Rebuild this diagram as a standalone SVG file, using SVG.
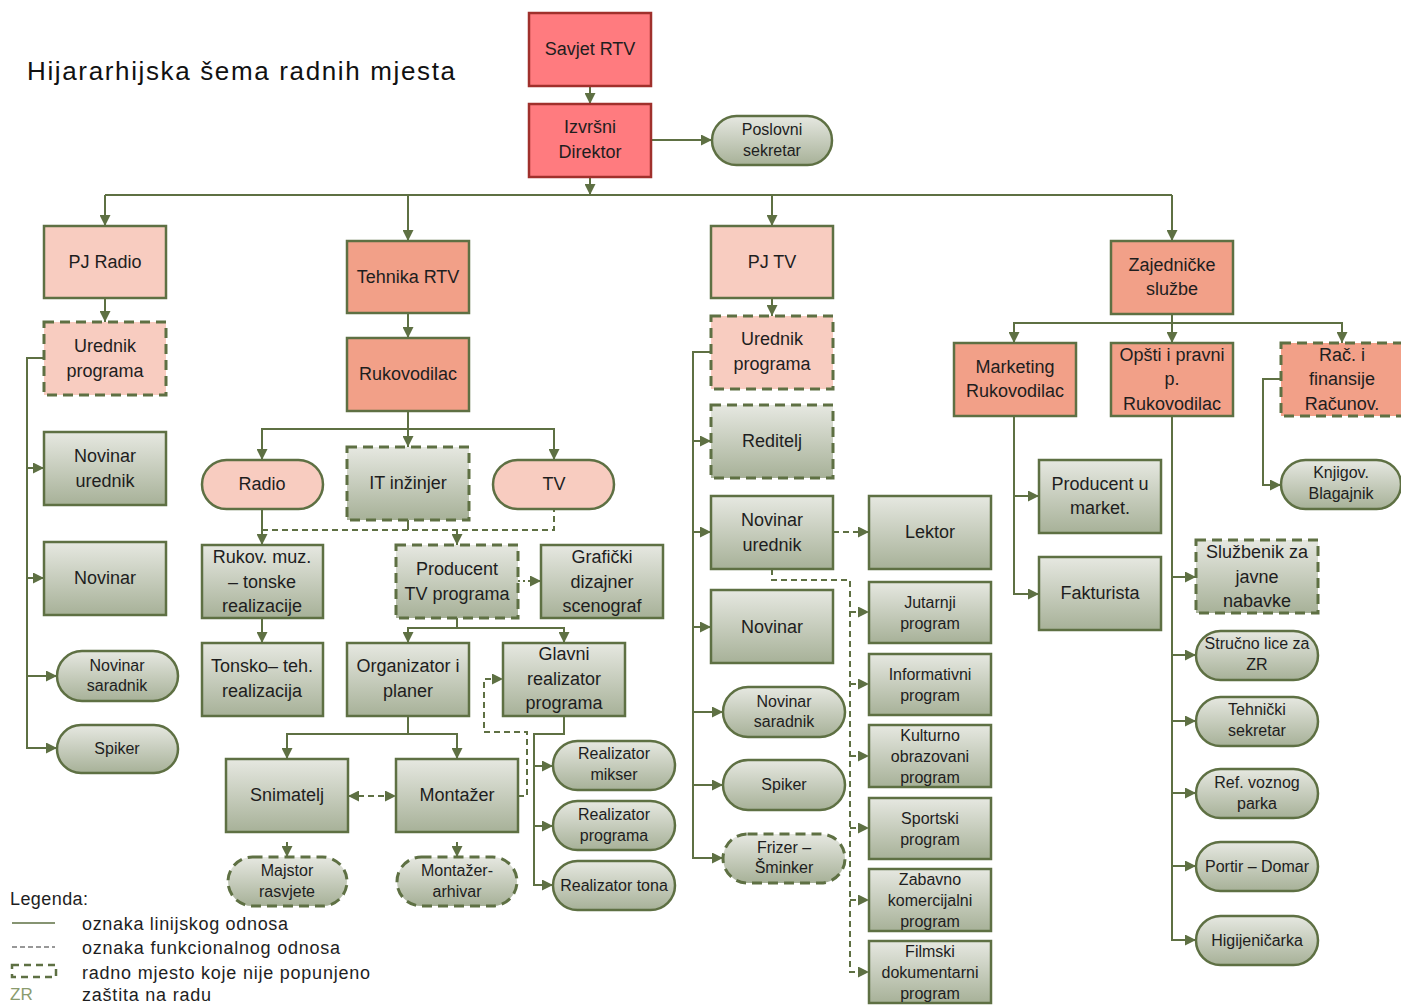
<svg xmlns="http://www.w3.org/2000/svg" width="1401" height="1005" viewBox="0 0 1401 1005">
<defs>
<linearGradient id="g" x1="0" y1="0" x2="0" y2="1">
<stop offset="0" stop-color="#E6E8E1"/>
<stop offset="1" stop-color="#A7B198"/>
</linearGradient>
<marker id="a" markerUnits="userSpaceOnUse" markerWidth="11" markerHeight="11" refX="11" refY="5.5" orient="auto">
<path d="M0,0 L11,5.5 L0,11 z" fill="#5E7043"/>
</marker>
<marker id="as" markerUnits="userSpaceOnUse" markerWidth="11" markerHeight="11" refX="0" refY="5.5" orient="auto">
<path d="M11,0 L0,5.5 L11,11 z" fill="#5E7043"/>
</marker>
<style>
text{font-family:"Liberation Sans",Arial,sans-serif;fill:#1E1E1E;text-anchor:middle}
.t{font-size:18px}
.s{font-size:16px}
.l{font-size:18px;text-anchor:start}
.red{fill:#FF7B7F;stroke:#A0302C;stroke-width:2.5}
.sal{fill:#F2A088;stroke:#5E7043;stroke-width:2.5}
.pink{fill:#F8CCC0;stroke:#5E7043;stroke-width:2.5}
.grn{fill:url(#g);stroke:#5E7043;stroke-width:2.5}
.dash{stroke-dasharray:10 6;stroke-width:3}
.c path{fill:none;stroke:#5E7043;stroke-width:2}
.c .d{stroke-dasharray:6 4}
.c .o{stroke-dasharray:2 3}
.m{marker-end:url(#a)}
</style>
</defs>

<text x="27" y="80" textLength="428" lengthAdjust="spacing" style="font-size:26px;text-anchor:start;fill:#111">Hijararhijska šema radnih mjesta</text>

<g class="c" id="connectors">
<path class="m" d="M590,86 V104"/>
<path class="m" d="M651,140 H712"/>
<path class="m" d="M590,177 V195"/>
<path d="M105,195 H1172"/>
<path class="m" d="M105,195 V226"/>
<path class="m" d="M408,195 V241"/>
<path class="m" d="M772,195 V226"/>
<path class="m" d="M1172,195 V241"/>
<path class="m" d="M105,298 V322"/>
<path class="m" d="M44,358 H27 V748 H57"/>
<path class="m" d="M27,468 H44"/>
<path class="m" d="M27,578 H44"/>
<path class="m" d="M27,676 H57"/>
<path class="m" d="M408,313 V338"/>
<path class="m" d="M408,411 V447"/>
<path class="m" d="M408,429 H262 V460"/>
<path class="m" d="M408,429 H554 V460"/>
<path class="m" d="M262,509 V545"/>
<path d="M408,520 V530"/>
<path class="d" d="M262,530 H554 V509"/>
<path class="d m" d="M457,530 V545"/>
<path class="o m" d="M518,581 H541"/>
<path class="m" d="M262,618 V643"/>
<path class="m" d="M457,618 V628 H408 V643"/>
<path class="m" d="M457,628 H564 V643"/>
<path class="m" d="M408,716 V734 H287 V759"/>
<path class="m" d="M408,734 H457 V759"/>
<path class="d m" d="M348,796 H396" style="marker-start:url(#as)"/>
<path class="m" d="M287,842 V857"/>
<path class="m" d="M457,842 V857"/>
<path class="m" d="M564,716 V734 H534 V885 H553"/>
<path class="m" d="M534,766 H553"/>
<path class="m" d="M534,826 H553"/>
<path class="d m" d="M518,796 H527 V732 H484 V679 H503"/>
<path class="m" d="M772,298 V316"/>
<path class="m" d="M711,352 H693 V858 H723"/>
<path class="m" d="M693,441 H711"/>
<path class="m" d="M693,532 H711"/>
<path class="m" d="M693,627 H711"/>
<path class="m" d="M693,712 H723"/>
<path class="m" d="M693,785 H723"/>
<path class="d m" d="M833,532 H869"/>
<path class="d m" d="M772,569 V580 H850 V972 H869"/>
<path class="d m" d="M850,612 H869"/>
<path class="d m" d="M850,684 H869"/>
<path class="d m" d="M850,756 H869"/>
<path class="d m" d="M850,828 H869"/>
<path class="d m" d="M850,900 H869"/>
<path class="m" d="M1172,314 V343"/>
<path class="m" d="M1172,323 H1014 V343"/>
<path class="m" d="M1172,323 H1342 V343"/>
<path class="m" d="M1014,416 V594 H1039"/>
<path class="m" d="M1014,496 H1039"/>
<path class="m" d="M1281,379 H1263 V485 H1281"/>
<path class="m" d="M1172,416 V940 H1196"/>
<path class="m" d="M1172,577 H1196"/>
<path class="m" d="M1172,655 H1196"/>
<path class="m" d="M1172,721 H1196"/>
<path class="m" d="M1172,793 H1196"/>
<path class="m" d="M1172,866 H1196"/>
</g>

<g id="savjet"><rect class="red" x="529" y="13" width="122" height="73"/><text class="t" x="590" y="55">Savjet RTV</text></g>
<g id="izvrsni"><rect class="red" x="529" y="104" width="122" height="73"/><text class="t" x="590" y="133">Izvršni</text><text class="t" x="590" y="158">Direktor</text></g>
<g id="poslovni"><rect class="grn" x="712" y="116" width="120" height="49" rx="24.5"/><text class="s" x="772" y="135">Poslovni</text><text class="s" x="772" y="156">sekretar</text></g>

<g id="pjradio"><rect class="pink" x="44" y="226" width="122" height="72"/><text class="t" x="105" y="268">PJ Radio</text></g>
<g id="urednik-r"><rect class="pink dash" x="44" y="322" width="122" height="73"/><text class="t" x="105" y="352">Urednik</text><text class="t" x="105" y="377">programa</text></g>
<g id="novurednik-r"><rect class="grn" x="44" y="432" width="122" height="73"/><text class="t" x="105" y="462">Novinar</text><text class="t" x="105" y="487">urednik</text></g>
<g id="novinar-r"><rect class="grn" x="44" y="542" width="122" height="73"/><text class="t" x="105" y="584">Novinar</text></g>
<g id="novsar-r"><rect class="grn" x="57" y="651" width="121" height="50" rx="25"/><text class="s" x="117" y="671">Novinar</text><text class="s" x="117" y="691">saradnik</text></g>
<g id="spiker-r"><rect class="grn" x="57" y="725" width="121" height="48" rx="24"/><text class="s" x="117" y="754">Spiker</text></g>

<g id="tehnika"><rect class="sal" x="347" y="241" width="122" height="72"/><text class="t" x="408" y="283">Tehnika RTV</text></g>
<g id="rukovodilac"><rect class="sal" x="347" y="338" width="122" height="73"/><text class="t" x="408" y="380">Rukovodilac</text></g>
<g id="radio"><rect class="pink" x="202" y="460" width="121" height="49" rx="24.5"/><text class="t" x="262" y="490">Radio</text></g>
<g id="it"><rect class="grn dash" x="347" y="447" width="122" height="73"/><text class="t" x="408" y="489">IT inžinjer</text></g>
<g id="tv"><rect class="pink" x="493" y="460" width="121" height="49" rx="24.5"/><text class="t" x="554" y="490">TV</text></g>
<g id="rukmuz"><rect class="grn" x="202" y="545" width="121" height="73"/><text class="t" x="262" y="563">Rukov. muz.</text><text class="t" x="262" y="588">– tonske</text><text class="t" x="262" y="612">realizacije</text></g>
<g id="tonsko"><rect class="grn" x="202" y="643" width="121" height="73"/><text class="t" x="262" y="672">Tonsko– teh.</text><text class="t" x="262" y="697">realizacija</text></g>
<g id="producent"><rect class="grn dash" x="396" y="545" width="122" height="73"/><text class="t" x="457" y="575">Producent</text><text class="t" x="457" y="600">TV programa</text></g>
<g id="graficki"><rect class="grn" x="541" y="545" width="122" height="73"/><text class="t" x="602" y="563">Grafički</text><text class="t" x="602" y="588">dizajner</text><text class="t" x="602" y="612">scenograf</text></g>
<g id="organizator"><rect class="grn" x="347" y="643" width="122" height="73"/><text class="t" x="408" y="672">Organizator i</text><text class="t" x="408" y="697">planer</text></g>
<g id="glavni"><rect class="grn" x="503" y="643" width="122" height="73"/><text class="t" x="564" y="660">Glavni</text><text class="t" x="564" y="685">realizator</text><text class="t" x="564" y="709">programa</text></g>
<g id="snimatelj"><rect class="grn" x="226" y="759" width="122" height="73"/><text class="t" x="287" y="801">Snimatelj</text></g>
<g id="montazer"><rect class="grn" x="396" y="759" width="122" height="73"/><text class="t" x="457" y="801">Montažer</text></g>
<g id="majstor"><rect class="grn dash" x="228" y="857" width="119" height="49" rx="24.5"/><text class="s" x="287" y="876">Majstor</text><text class="s" x="287" y="897">rasvjete</text></g>
<g id="arhivar"><rect class="grn dash" x="397" y="857" width="120" height="49" rx="24.5"/><text class="s" x="457" y="876">Montažer-</text><text class="s" x="457" y="897">arhivar</text></g>
<g id="mikser"><rect class="grn" x="553" y="741" width="122" height="49" rx="24.5"/><text class="s" x="614" y="759">Realizator</text><text class="s" x="614" y="780">mikser</text></g>
<g id="realprog"><rect class="grn" x="553" y="801" width="122" height="49" rx="24.5"/><text class="s" x="614" y="820">Realizator</text><text class="s" x="614" y="841">programa</text></g>
<g id="realtona"><rect class="grn" x="553" y="861" width="122" height="49" rx="24.5"/><text class="s" x="614" y="891">Realizator tona</text></g>

<g id="pjtv"><rect class="pink" x="711" y="226" width="122" height="72"/><text class="t" x="772" y="268">PJ TV</text></g>
<g id="urednik-tv"><rect class="pink dash" x="711" y="316" width="122" height="73"/><text class="t" x="772" y="345">Urednik</text><text class="t" x="772" y="370">programa</text></g>
<g id="reditelj"><rect class="grn dash" x="711" y="405" width="122" height="73"/><text class="t" x="772" y="447">Reditelj</text></g>
<g id="novurednik-tv"><rect class="grn" x="711" y="496" width="122" height="73"/><text class="t" x="772" y="526">Novinar</text><text class="t" x="772" y="551">urednik</text></g>
<g id="novinar-tv"><rect class="grn" x="711" y="590" width="122" height="73"/><text class="t" x="772" y="633">Novinar</text></g>
<g id="novsar-tv"><rect class="grn" x="723" y="687" width="122" height="50" rx="25"/><text class="s" x="784" y="707">Novinar</text><text class="s" x="784" y="727">saradnik</text></g>
<g id="spiker-tv"><rect class="grn" x="723" y="760" width="122" height="50" rx="25"/><text class="s" x="784" y="790">Spiker</text></g>
<g id="frizer"><rect class="grn dash" x="723" y="834" width="122" height="49" rx="24.5"/><text class="s" x="784" y="853">Frizer –</text><text class="s" x="784" y="873">Šminker</text></g>
<g id="lektor"><rect class="grn" x="869" y="496" width="122" height="73"/><text class="t" x="930" y="538">Lektor</text></g>
<g id="jutarnji"><rect class="grn" x="869" y="582" width="122" height="61"/><text class="s" x="930" y="608">Jutarnji</text><text class="s" x="930" y="629">program</text></g>
<g id="informativni"><rect class="grn" x="869" y="654" width="122" height="61"/><text class="s" x="930" y="680">Informativni</text><text class="s" x="930" y="701">program</text></g>
<g id="kulturno"><rect class="grn" x="869" y="725" width="122" height="62"/><text class="s" x="930" y="741">Kulturno</text><text class="s" x="930" y="762">obrazovani</text><text class="s" x="930" y="783">program</text></g>
<g id="sportski"><rect class="grn" x="869" y="798" width="122" height="61"/><text class="s" x="930" y="824">Sportski</text><text class="s" x="930" y="845">program</text></g>
<g id="zabavno"><rect class="grn" x="869" y="869" width="122" height="62"/><text class="s" x="930" y="885">Zabavno</text><text class="s" x="930" y="906">komercijalni</text><text class="s" x="930" y="927">program</text></g>
<g id="filmski"><rect class="grn" x="869" y="941" width="122" height="62"/><text class="s" x="930" y="957">Filmski</text><text class="s" x="930" y="978">dokumentarni</text><text class="s" x="930" y="999">program</text></g>

<g id="zajednicke"><rect class="sal" x="1111" y="241" width="122" height="73"/><text class="t" x="1172" y="271">Zajedničke</text><text class="t" x="1172" y="295">službe</text></g>
<g id="marketing"><rect class="sal" x="954" y="343" width="122" height="73"/><text class="t" x="1015" y="373">Marketing</text><text class="t" x="1015" y="397">Rukovodilac</text></g>
<g id="opsti"><rect class="sal" x="1111" y="343" width="122" height="73"/><text class="t" x="1172" y="361">Opšti i pravni</text><text class="t" x="1172" y="385">p.</text><text class="t" x="1172" y="410">Rukovodilac</text></g>
<g id="rac"><rect class="sal dash" x="1281" y="343" width="122" height="73"/><text class="t" x="1342" y="361">Rač. i</text><text class="t" x="1342" y="385">finansije</text><text class="t" x="1342" y="410">Računov.</text></g>
<g id="prodmarket"><rect class="grn" x="1039" y="460" width="122" height="73"/><text class="t" x="1100" y="490">Producent u</text><text class="t" x="1100" y="514">market.</text></g>
<g id="fakturista"><rect class="grn" x="1039" y="557" width="122" height="73"/><text class="t" x="1100" y="599">Fakturista</text></g>
<g id="knjigov"><rect class="grn" x="1281" y="460" width="120" height="49" rx="24.5"/><text class="s" x="1341" y="478">Knjigov.</text><text class="s" x="1341" y="499">Blagajnik</text></g>
<g id="sluzbenik"><rect class="grn dash" x="1196" y="540" width="122" height="73"/><text class="t" x="1257" y="558">Službenik za</text><text class="t" x="1257" y="583">javne</text><text class="t" x="1257" y="607">nabavke</text></g>
<g id="strucno"><rect class="grn" x="1196" y="631" width="122" height="49" rx="24.5"/><text class="s" x="1257" y="649">Stručno lice za</text><text class="s" x="1257" y="670">ZR</text></g>
<g id="tehnicki"><rect class="grn" x="1196" y="697" width="122" height="49" rx="24.5"/><text class="s" x="1257" y="715">Tehnički</text><text class="s" x="1257" y="736">sekretar</text></g>
<g id="ref"><rect class="grn" x="1196" y="769" width="122" height="49" rx="24.5"/><text class="s" x="1257" y="788">Ref. voznog</text><text class="s" x="1257" y="809">parka</text></g>
<g id="portir"><rect class="grn" x="1196" y="842" width="122" height="49" rx="24.5"/><text class="s" x="1257" y="872">Portir – Domar</text></g>
<g id="higijenicarka"><rect class="grn" x="1196" y="916" width="122" height="49" rx="24.5"/><text class="s" x="1257" y="946">Higijeničarka</text></g>

<g id="legend">
<text class="l" x="10" y="905" textLength="78" lengthAdjust="spacing">Legenda:</text>
<path d="M12,923 H55" stroke="#5E7043" stroke-width="1.5"/>
<path d="M12,947 H55" stroke="#777" stroke-width="1.3" stroke-dasharray="5 3"/>
<rect x="12" y="965" width="44" height="12" fill="none" stroke="#5E7043" stroke-width="2.5" stroke-dasharray="7 5"/>
<text x="10" y="1000" style="font-size:17px;text-anchor:start;fill:#8A9B6E">ZR</text>
<text class="l" x="82" y="930" textLength="206" lengthAdjust="spacing">oznaka linijskog odnosa</text>
<text class="l" x="82" y="954" textLength="258" lengthAdjust="spacing">oznaka funkcionalnog odnosa</text>
<text class="l" x="82" y="979" textLength="288" lengthAdjust="spacing">radno mjesto koje nije popunjeno</text>
<text class="l" x="82" y="1001" textLength="129" lengthAdjust="spacing">zaštita na radu</text>
</g>
</svg>
